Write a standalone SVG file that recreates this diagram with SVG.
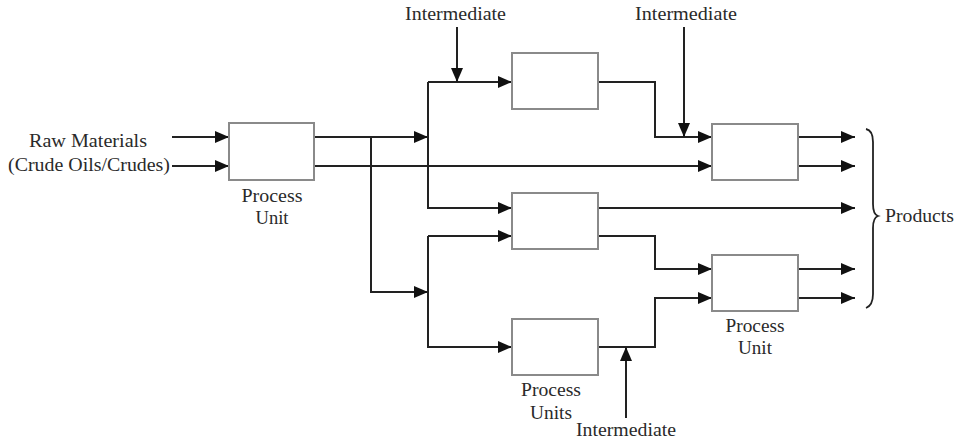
<svg xmlns="http://www.w3.org/2000/svg" width="962" height="444" viewBox="0 0 962 444">
<style>
.box{fill:#fff;stroke:#8a8a8a;stroke-width:2}
.ln{fill:none;stroke:#222;stroke-width:2}
.ar{marker-end:url(#ah)}
text{font-family:"Liberation Serif","Times New Roman",serif;font-size:18px;fill:#2a2a2a}
.c{text-anchor:middle}
</style>
<defs>
<marker id="ah" markerUnits="userSpaceOnUse" markerWidth="16" markerHeight="13" refX="14" refY="6" orient="auto" overflow="visible">
<path d="M0,0 L14,6 L0,12 Z" fill="#111"/>
</marker>
</defs>
<rect width="962" height="444" fill="#fff"/>
<g id="connectors">
<path class="ln ar" d="M172,137 H229"/>
<path class="ln ar" d="M172,166 H229"/>
<path class="ln ar" d="M314,137 H428"/>
<path class="ln ar" d="M371,137 V292 H428"/>
<path class="ln ar" d="M314,166 H712"/>
<path class="ln ar" d="M428,82 H512"/>
<path class="ln ar" d="M428,82 V208 H512"/>
<path class="ln ar" d="M428,236 H512"/>
<path class="ln ar" d="M428,236 V347 H512"/>
<path class="ln ar" d="M457,27 V82"/>
<path class="ln ar" d="M598,82 H655 V137 H712"/>
<path class="ln ar" d="M684,27 V137"/>
<path class="ln ar" d="M798,137 H855"/>
<path class="ln ar" d="M798,166 H855"/>
<path class="ln ar" d="M598,208 H855"/>
<path class="ln ar" d="M598,236 H655 V269 H712"/>
<path class="ln ar" d="M798,269 H855"/>
<path class="ln ar" d="M798,298 H855"/>
<path class="ln ar" d="M598,347 H655 V298 H712"/>
<path class="ln ar" d="M626,418 V347"/>
</g>
<g id="inputs">
<text class="c" x="88" y="147" textLength="118" lengthAdjust="spacingAndGlyphs">Raw Materials</text>
<text class="c" x="89" y="171" textLength="162" lengthAdjust="spacingAndGlyphs">(Crude Oils/Crudes)</text>
</g>
<g id="unit1">
<rect class="box" x="229" y="123" width="85" height="57"/>
<text class="c" x="272" y="202" textLength="61" lengthAdjust="spacingAndGlyphs">Process</text>
<text class="c" x="272" y="224" textLength="33" lengthAdjust="spacingAndGlyphs">Unit</text>
</g>
<g id="unit2"><rect class="box" x="512" y="53" width="86" height="56"/></g>
<g id="unit3"><rect class="box" x="512" y="193" width="86" height="56"/></g>
<g id="unit4"><rect class="box" x="712" y="124" width="86" height="56"/></g>
<g id="unit5">
<rect class="box" x="712" y="255" width="86" height="56"/>
<text class="c" x="755" y="332" textLength="59" lengthAdjust="spacingAndGlyphs">Process</text>
<text class="c" x="755" y="354" textLength="34" lengthAdjust="spacingAndGlyphs">Unit</text>
</g>
<g id="unit6">
<rect class="box" x="512" y="319" width="86" height="56"/>
<text class="c" x="551" y="396" textLength="60" lengthAdjust="spacingAndGlyphs">Process</text>
<text class="c" x="551" y="419" textLength="42" lengthAdjust="spacingAndGlyphs">Units</text>
</g>
<g id="intermediate1"><text class="c" x="455.5" y="20" textLength="101" lengthAdjust="spacingAndGlyphs">Intermediate</text></g>
<g id="intermediate2"><text class="c" x="686" y="20" textLength="102" lengthAdjust="spacingAndGlyphs">Intermediate</text></g>
<g id="intermediate3"><text class="c" x="626" y="436" textLength="100" lengthAdjust="spacingAndGlyphs">Intermediate</text></g>
<g id="products">
<path d="M866,129 C871,130 873,134 873,142 V204 C873,211 875,215 878,216 C875,217 873,221 873,228 V294 C873,302 871,306 866,308" fill="none" stroke="#222" stroke-width="1.8"/>
<text x="885" y="222" textLength="69" lengthAdjust="spacingAndGlyphs">Products</text>
</g>
</svg>
